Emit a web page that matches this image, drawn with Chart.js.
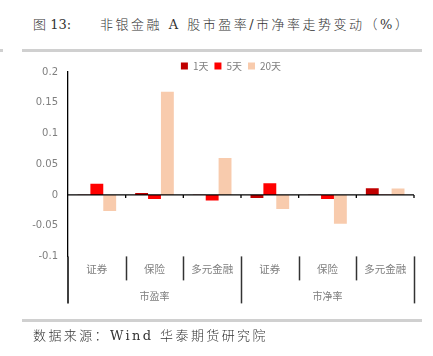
<!DOCTYPE html>
<html><head><meta charset="utf-8">
<script src="https://cdn.jsdelivr.net/npm/chart.js@4"></script>
<style>
html,body{margin:0;padding:0;background:#fff;}
body{width:433px;height:356px;position:relative;overflow:hidden;}
#wrap{position:absolute;left:0;top:0;width:433px;height:356px;}
.txt{position:absolute;font-family:"DejaVu Serif","Noto Sans CJK SC",serif;font-size:13px;font-weight:300;color:#333;white-space:pre;}
.bar{position:absolute;height:3px;background:#d0d0d0;}
</style></head><body>
<div class="txt" style="left:33px;top:14px;">图 13:</div>
<div class="txt" style="left:100px;top:14px;letter-spacing:2.5px;">非银金融 A 股市盈率/市净率走势变动（%）</div>
<div class="bar" style="left:22px;top:49px;width:400px;"></div>
<div class="bar" style="left:0px;top:49px;width:3px;"></div>
<div id="wrap"><canvas id="c"></canvas></div>
<div class="bar" style="left:22px;top:319px;width:400px;"></div>
<div class="txt" style="left:33px;top:325px;letter-spacing:2.4px;">数据来源：Wind 华泰期货研究院</div>
<script>
const categories = ["证券","保险","多元金融","证券","保险","多元金融"];
const groups = ["市盈率","市净率"];
const seriesNames = ["1天","5天","20天"];
const d1 = [0.0005, 0.003, 0.0005, -0.005, 0.0005, 0.011];
const d5 = [0.018, -0.0065, -0.009, 0.019, -0.0065, 0.0005];
const d20 = [-0.026, 0.168, 0.060, -0.023, -0.047, 0.0105];
const yTicks = [-0.1,-0.05,0,0.05,0.1,0.15,0.2];
const colors = ["#C00000","#FF0000","#F8CBAD"];

const legendFix = {
  id:'legendFix',
  beforeLayout(chart){
    const lg = chart.legend;
    if(lg && !lg._patched){
      const f = lg.fit.bind(lg);
      lg.fit = function(){ f(); this.height = 17; };
      lg._patched = true;
    }
  },
  afterLayout(chart){
    const lg = chart.legend;
    if(lg){ lg.left += 48; }
  }
};

const overlay = {
  id:'overlay',
  afterDatasetsDraw(chart){
    const {ctx, chartArea, scales} = chart;
    const x = scales.x, y = scales.y;
    const y0 = y.getPixelForValue(0);
    const n = categories.length;
    const step = (x.right - x.left)/n;
    ctx.save();
    ctx.strokeStyle = '#000';
    ctx.lineWidth = 1.3;
    ctx.beginPath(); ctx.moveTo(x.left, y0); ctx.lineTo(x.right, y0); ctx.stroke();
    for(let i=1;i<=n;i++){
      const px = x.left + step*i;
      ctx.beginPath(); ctx.moveTo(px, y0); ctx.lineTo(px, y0+3); ctx.stroke();
    }
    const top = chartArea.bottom;
    ctx.lineWidth = 1.5;
    for(let i=0;i<=n;i++){
      const px = Math.round(x.left + step*i)+0.5;
      const long = (i % 3 === 0);
      if(i===0){
        ctx.strokeStyle='#000';
        ctx.beginPath(); ctx.moveTo(y.right, top); ctx.lineTo(y.right, top+47); ctx.stroke();
        continue;
      }
      ctx.strokeStyle='#333';
      ctx.beginPath(); ctx.moveTo(px, top); ctx.lineTo(px, top + (long?47:24)); ctx.stroke();
    }
    ctx.fillStyle = '#7f7f7f';
    ctx.font = '10px "Noto Sans CJK SC", sans-serif';
    ctx.textAlign='center'; ctx.textBaseline='middle';
    groups.forEach((g,k)=>{
      const cx = x.left + step*(3*k+1.5);
      ctx.fillText(g, cx, top+40);
    });
    ctx.restore();
  }
};

new Chart(document.getElementById('c'), {
  type:'bar',
  data:{
    labels: categories,
    datasets:[
      {label:seriesNames[0], data:d1, backgroundColor:colors[0]},
      {label:seriesNames[1], data:d5, backgroundColor:colors[1]},
      {label:seriesNames[2], data:d20, backgroundColor:colors[2]}
    ]
  },
  options:{
    responsive:true, maintainAspectRatio:false, animation:false,
    devicePixelRatio:1,
    layout:{padding:{top:55,left:0,right:19,bottom:75}},
    datasets:{bar:{barPercentage:1, categoryPercentage:0.67}},
    plugins:{
      legend:{position:'top', align:'center',
        labels:{boxWidth:7, boxHeight:7, padding:6, color:'#7f7f7f',
          font:{size:10, family:'"Noto Sans CJK SC", sans-serif'}}},
      tooltip:{enabled:false}
    },
    scales:{
      x:{
        grid:{display:false, drawTicks:false},
        border:{display:false},
        ticks:{color:'#7f7f7f', padding:6, font:{size:10.5, family:'"Noto Sans CJK SC", sans-serif'}, maxRotation:0}
      },
      y:{
        min:-0.1, max:0.2,
        afterBuildTicks(s){ s.ticks = yTicks.map(v=>({value:v})); },
        afterFit(s){ s.width = 68; },
        grid:{display:false, drawTicks:true, tickLength:4, color:'#000'},
        border:{display:true, color:'#000', width:1.3},
        ticks:{color:'#7f7f7f', padding:6, font:{size:10, family:'"DejaVu Sans", sans-serif'},
          callback:(v)=> String(Math.round(v*100)/100)}
      }
    }
  },
  plugins:[legendFix, overlay]
});
</script>
</body></html>
